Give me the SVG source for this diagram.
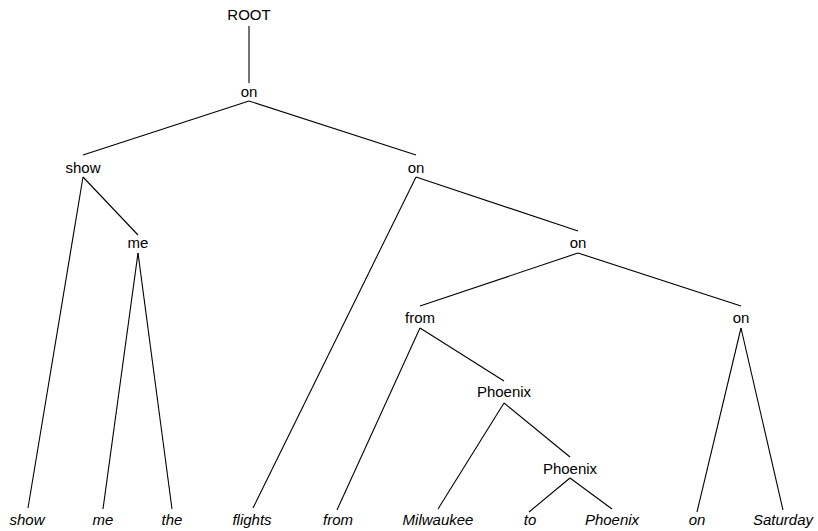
<svg xmlns="http://www.w3.org/2000/svg" width="818" height="531" viewBox="0 0 818 531">
  <style>
    .node text { font-family: "Liberation Sans", Arial, sans-serif; font-size: 15px; fill: #000; text-anchor: middle; }
    .leaf text { font-style: italic; }
    #edges line { stroke: #000; stroke-width: 1.1; }
  </style>
  <rect width="818" height="531" fill="#fff"/>

  <!-- connectors -->
  <g id="edges">
    <line x1="249" y1="26" x2="249" y2="83"/>
    <line x1="249" y1="101" x2="83" y2="155"/>
    <line x1="249" y1="101" x2="416" y2="155"/>
    <line x1="83" y1="177" x2="28" y2="508"/>
    <line x1="83" y1="177" x2="138" y2="235"/>
    <line x1="138" y1="253" x2="103" y2="509"/>
    <line x1="138" y1="253" x2="172" y2="509"/>
    <line x1="416" y1="177" x2="253" y2="508"/>
    <line x1="416" y1="177" x2="578" y2="231"/>
    <line x1="578" y1="253" x2="420" y2="306"/>
    <line x1="578" y1="253" x2="741" y2="306"/>
    <line x1="420" y1="328" x2="337" y2="510"/>
    <line x1="420" y1="328" x2="504" y2="381"/>
    <line x1="741" y1="328" x2="697" y2="512"/>
    <line x1="741" y1="328" x2="783" y2="510"/>
    <line x1="504" y1="403" x2="438" y2="509"/>
    <line x1="504" y1="403" x2="570" y2="457"/>
    <line x1="570" y1="478" x2="529" y2="512"/>
    <line x1="570" y1="478" x2="612" y2="509"/>
  </g>

  <!-- internal nodes -->
  <g id="n-root" class="node"><text x="249" y="20">ROOT</text></g>
  <g id="n-on1" class="node"><text x="249" y="97">on</text></g>
  <g id="n-show" class="node"><text x="83" y="173">show</text></g>
  <g id="n-on2" class="node"><text x="416" y="173">on</text></g>
  <g id="n-me" class="node"><text x="138" y="248">me</text></g>
  <g id="n-on3" class="node"><text x="578" y="248">on</text></g>
  <g id="n-from" class="node"><text x="420" y="323">from</text></g>
  <g id="n-on4" class="node"><text x="741" y="323">on</text></g>
  <g id="n-phoenix1" class="node"><text x="504" y="397">Phoenix</text></g>
  <g id="n-phoenix2" class="node"><text x="570" y="474">Phoenix</text></g>

  <!-- leaves -->
  <g id="w-show" class="node leaf"><text x="27" y="525">show</text></g>
  <g id="w-me" class="node leaf"><text x="103" y="525">me</text></g>
  <g id="w-the" class="node leaf"><text x="172" y="525">the</text></g>
  <g id="w-flights" class="node leaf"><text x="252" y="525">flights</text></g>
  <g id="w-from" class="node leaf"><text x="338" y="525">from</text></g>
  <g id="w-milwaukee" class="node leaf"><text x="438" y="525">Milwaukee</text></g>
  <g id="w-to" class="node leaf"><text x="530" y="525">to</text></g>
  <g id="w-phoenix" class="node leaf"><text x="612" y="525">Phoenix</text></g>
  <g id="w-on" class="node leaf"><text x="697" y="525">on</text></g>
  <g id="w-saturday" class="node leaf"><text x="783" y="525">Saturday</text></g>
</svg>
